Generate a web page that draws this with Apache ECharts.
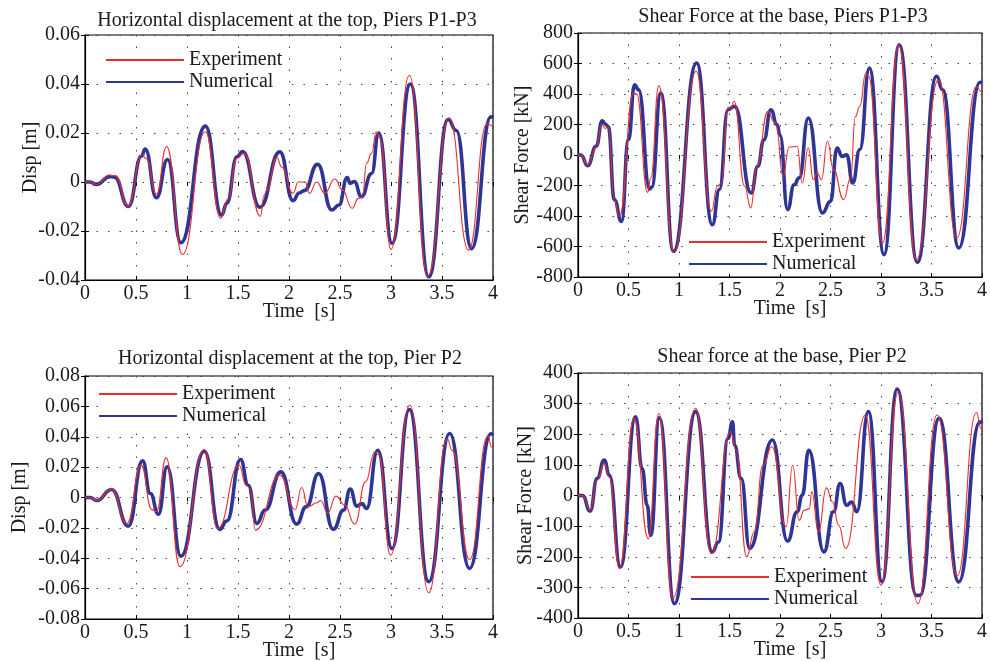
<!DOCTYPE html>
<html>
<head>
<meta charset="utf-8">
<script src="https://cdn.jsdelivr.net/npm/echarts@6/dist/echarts.min.js"></script>
<style>
html,body{margin:0;padding:0;background:#fff;}
#chart{width:990px;height:662px;}
</style>
</head>
<body>
<div id="chart"></div>
<script>
// ---------- titles / labels ----------
const titles = [
  'Horizontal displacement at the top, Piers P1-P3',
  'Shear Force at the base, Piers P1-P3',
  'Horizontal displacement at the top, Pier P2',
  'Shear force at the base, Pier P2'
];
const yNames = ['Disp [m]', 'Shear Force [kN]', 'Disp [m]', 'Shear Force [kN]'];
const xName = 'Time  [s]';
const seriesNames = ['Experiment', 'Numerical'];
const yMin = [-0.04, -800, -0.08, -400];
const yMax = [0.06, 800, 0.08, 400];
const yStep = [0.02, 200, 0.02, 100];
const xTicks = [0, 0.5, 1, 1.5, 2, 2.5, 3, 3.5, 4];

// ---------- Top-left: displacement P1-P3 ----------
const tlExpT = [0,0.05,0.11,0.24,0.30,0.42,0.56,0.60,0.70,0.80,0.955,1.18,1.33,1.40,1.49,1.56,1.72,1.755,1.78,1.88,1.93,2.04,2.09,2.16,2.20,2.27,2.35,2.45,2.52,2.62,2.68,2.72,2.76,2.81,2.855,2.89,3.00,3.18,3.36,3.57,3.76,3.94,4.0];
const tlExpV = [0,0,-0.001,0.0028,0.0025,-0.0100,0.0112,0.0095,-0.0050,0.0145,-0.0296,0.0205,-0.0148,-0.0070,0.0097,0.0118,-0.0140,-0.0055,-0.0035,0.0100,0.0060,-0.0046,0.0,0.0,-0.0046,0.0,-0.0045,0.0012,-0.0030,-0.0107,-0.0067,-0.0060,0.0076,0.0117,0.0205,0.0180,-0.0275,0.0436,-0.0384,0.0262,-0.0278,0.0237,0.0225];
const tlNumT = [0,0.05,0.11,0.245,0.29,0.425,0.555,0.59,0.70,0.81,0.94,1.18,1.34,1.39,1.49,1.545,1.715,1.91,2.04,2.10,2.15,2.28,2.42,2.49,2.57,2.60,2.64,2.71,2.81,2.88,3.01,3.19,3.37,3.56,3.64,3.79,3.98,4.0];
const tlNumV = [0,0,-0.001,0.0022,0.0020,-0.0100,0.0106,0.0135,-0.0064,0.0092,-0.0248,0.0228,-0.0135,-0.0087,0.0103,0.0124,-0.0103,0.0123,-0.0076,-0.0045,-0.0035,0.0072,-0.0114,-0.0094,0.0018,-0.0005,0.0002,-0.0060,0.0035,0.0200,-0.0250,0.0400,-0.0387,0.0255,0.0210,-0.0272,0.0266,0.0262];

// ---------- Top-right: shear P1-P3 ----------
const trExpT = [0,0.03,0.095,0.18,0.235,0.27,0.30,0.36,0.41,0.55,0.58,0.69,0.72,0.80,0.95,1.17,1.32,1.38,1.42,1.485,1.51,1.545,1.65,1.71,1.77,1.88,1.94,1.96,2.03,2.09,2.17,2.22,2.28,2.33,2.37,2.41,2.47,2.53,2.63,2.70,2.745,2.79,2.85,2.875,3.015,3.175,3.35,3.57,3.75,3.945,3.99,4.0];
const trExpV = [0,0,-65,50,200,175,185,-300,-402,410,400,-245,-150,455,-638,549,-369,-205,-184,315,297,352,-205,-347,-74,286,221,200,-140,52,57,-184,46,-162,-118,-162,90,-96,-293,-150,250,320,538,520,-577,723,-686,494,-544,450,417,410];
const trNumT = [0,0.03,0.095,0.18,0.24,0.275,0.30,0.36,0.43,0.50,0.56,0.60,0.71,0.73,0.82,0.945,1.175,1.33,1.40,1.485,1.55,1.715,1.78,1.84,1.91,1.97,2.0,2.075,2.14,2.19,2.28,2.42,2.50,2.565,2.615,2.66,2.72,2.79,2.885,3.03,3.18,3.36,3.55,3.61,3.77,3.98,4.0];
const trNumV = [0,0,-70,57,225,200,185,-293,-435,100,461,428,-223,-210,406,-632,603,-457,-227,297,319,-249,-74,100,297,200,130,-358,-195,-150,243,-380,-304,46,-9,2,-184,35,570,-653,723,-704,516,428,-610,477,470];

// ---------- Bottom-left: displacement P2 ----------
const blExpT = [0,0.05,0.115,0.26,0.41,0.55,0.655,0.70,0.795,0.93,1.17,1.30,1.51,1.58,1.62,1.67,1.91,2.06,2.125,2.185,2.275,2.31,2.38,2.46,2.545,2.645,2.75,2.84,2.88,2.995,3.185,3.37,3.55,3.60,3.77,3.95,3.985,4.0];
const blExpV = [0,0,-0.002,0.0055,-0.0171,0.0213,-0.0080,-0.0094,0.0261,-0.0456,0.0316,-0.0204,0.0213,0.0080,0.0060,-0.0215,0.0147,-0.0079,0.0066,-0.0060,-0.0035,-0.0020,-0.0101,0.0009,-0.0050,-0.0175,0.0103,0.0300,0.0280,-0.0380,0.0607,-0.0627,0.0388,0.0310,-0.0408,0.0404,0.0333,0.0330];
const blNumT = [0,0.05,0.115,0.26,0.425,0.565,0.64,0.72,0.805,0.94,1.17,1.32,1.39,1.525,1.60,1.685,1.765,1.92,2.075,2.17,2.29,2.435,2.535,2.60,2.665,2.715,2.76,2.87,3.01,3.18,3.37,3.575,3.77,3.98,4.0];
const blNumV = [0,0,-0.002,0.0053,-0.0189,0.0241,0.0026,-0.0110,0.0202,-0.0386,0.0305,-0.0210,-0.0155,0.0250,0.0081,-0.0171,-0.0083,0.0169,-0.0175,-0.0060,0.0158,-0.0210,-0.0083,0.0055,-0.0057,-0.0040,-0.0072,0.0311,-0.0336,0.0579,-0.0555,0.0421,-0.0467,0.0420,0.0410];

// ---------- Bottom-right: shear P2 ----------
const brExpT = [0,0.045,0.12,0.19,0.26,0.31,0.41,0.555,0.695,0.80,0.94,1.165,1.32,1.51,1.565,1.67,1.745,1.83,1.92,2.06,2.125,2.19,2.24,2.29,2.315,2.38,2.46,2.52,2.58,2.65,2.845,3.0,3.17,3.365,3.555,3.755,3.945,3.99,4.0];
const brExpV = [0,0,-48,50,105,60,-239,252,-141,268,-335,285,-190,208,148,-200,-119,99,159,-102,99,-81,-48,-43,12,-119,25,-21,-97,-173,263,-293,339,-353,263,-262,271,219,210];
const brNumT = [0,0.045,0.12,0.19,0.26,0.31,0.42,0.57,0.635,0.685,0.72,0.805,0.955,1.165,1.33,1.39,1.485,1.53,1.55,1.615,1.70,1.925,2.075,2.17,2.22,2.285,2.435,2.53,2.595,2.66,2.71,2.76,2.875,3.01,3.16,3.35,3.385,3.575,3.77,3.98,4.0];
const brNumV = [0,0,-51,56,116,66,-233,257,88,-32,-130,254,-353,274,-184,-152,186,241,165,56,-173,181,-149,-53,1,148,-184,-53,39,-32,-21,-53,274,-282,348,-326,-326,252,-282,241,235];

// ---------- build ----------
function zip(t, v) { return t.map((x, i) => [x, v[i]]); }
const expData = [zip(tlExpT, tlExpV), zip(trExpT, trExpV), zip(blExpT, blExpV), zip(brExpT, brExpV)];
const numData = [zip(tlNumT, tlNumV), zip(trNumT, trNumV), zip(blNumT, blNumV), zip(brNumT, brNumV)];

const FONT = "'Liberation Serif', 'DejaVu Serif', serif";
const TXT = '#1a1a1a';
const RED = '#ef2b2b';
const BLUE = '#2e3592';

const grids = [
  {left: 85, top: 35, width: 408, height: 245},
  {left: 578, top: 33, width: 408, height: 244},
  {left: 85, top: 376, width: 408, height: 243},
  {left: 578, top: 373, width: 408, height: 245}
];
const titlePos = [[287, 11], [783, 7], [290, 349], [782, 347]];
const legendPos = [[105, 50], [688, 232], [98, 384], [690, 567]];
const yNameGap = [44, 45, 55, 42];

function fmt(v) { return String(parseFloat(Number(v).toFixed(4))); }

const option = {
  backgroundColor: '#fff',
  animation: false,
  title: titles.map((t, i) => ({
    text: t, left: titlePos[i][0], top: titlePos[i][1], textAlign: 'center', padding: 0,
    textStyle: {fontFamily: FONT, fontSize: 20, fontWeight: 'normal', color: TXT}
  })),
  legend: legendPos.map((p, i) => ({
    data: seriesNames.slice(), left: p[0], top: p[1], orient: 'vertical',
    itemWidth: 78, itemHeight: 14, itemGap: 2, padding: [0, 4, 0, 0],
    backgroundColor: '#fff', selectedMode: false,
    textStyle: {fontFamily: FONT, fontSize: 20, color: TXT, lineHeight: 20}
  })),
  grid: grids.map(g => Object.assign({show: true, borderColor: '#000', borderWidth: 1.2, backgroundColor: 'transparent'}, g)),
  xAxis: [],
  yAxis: [],
  series: []
};

for (let i = 0; i < 4; i++) {
  option.xAxis.push({
    type: 'value', gridIndex: i, min: xTicks[0], max: xTicks[xTicks.length - 1], interval: xTicks[1] - xTicks[0],
    name: xName, nameLocation: 'middle', nameGap: 22, nameMoveOverlap: false,
    nameTextStyle: {fontFamily: FONT, fontSize: 20, color: TXT, padding: [0, 0, 0, 20]},
    axisLine: {show: true, onZero: false, lineStyle: {color: '#000', width: 1.2}},
    axisTick: {show: true, inside: true, length: 4, lineStyle: {color: '#000'}},
    axisLabel: {fontFamily: FONT, fontSize: 20, color: TXT, margin: 4, formatter: fmt},
    splitLine: {show: true, lineStyle: {color: '#444', width: 1, type: [1.5, 10]}}
  });
  option.yAxis.push({
    type: 'value', gridIndex: i, min: yMin[i], max: yMax[i], interval: yStep[i],
    name: yNames[i], nameLocation: 'middle', nameGap: yNameGap[i], nameMoveOverlap: false,
    nameTextStyle: {fontFamily: FONT, fontSize: 20, color: TXT},
    axisLine: {show: true, onZero: false, lineStyle: {color: '#000', width: 1.2}},
    axisTick: {show: true, inside: true, length: 4, lineStyle: {color: '#000'}},
    axisLabel: {fontFamily: FONT, fontSize: 20, color: TXT, margin: 5, formatter: fmt},
    splitLine: {show: true, lineStyle: {color: '#444', width: 1, type: [1.5, 10]}}
  });
}
for (let i = 0; i < 4; i++) {
  option.xAxis.push({
    type: 'value', gridIndex: i, position: 'top', min: xTicks[0], max: xTicks[xTicks.length - 1], interval: xTicks[1] - xTicks[0],
    axisLine: {show: false}, axisLabel: {show: false}, splitLine: {show: false},
    axisTick: {show: true, inside: true, length: 4, lineStyle: {color: '#000'}}
  });
  option.yAxis.push({
    type: 'value', gridIndex: i, position: 'right', min: yMin[i], max: yMax[i], interval: yStep[i],
    axisLine: {show: false}, axisLabel: {show: false}, splitLine: {show: false},
    axisTick: {show: true, inside: true, length: 4, lineStyle: {color: '#000'}}
  });
}
for (let i = 0; i < 4; i++) {
  option.series.push({
    name: seriesNames[1], type: 'line', xAxisIndex: i, yAxisIndex: i, data: numData[i],
    smooth: 0.5, smoothMonotone: 'x', symbol: 'circle', symbolSize: 1, showSymbol: false, z: 2,
    lineStyle: {color: BLUE, width: 3.6}, itemStyle: {color: BLUE, opacity: 0}
  });
  option.series.push({
    name: seriesNames[0], type: 'line', xAxisIndex: i, yAxisIndex: i, data: expData[i],
    smooth: 0.5, smoothMonotone: 'x', symbol: 'circle', symbolSize: 1, showSymbol: false, z: 3,
    lineStyle: {color: RED, width: 1.1}, itemStyle: {color: RED, opacity: 0}
  });
}

const chart = echarts.init(document.getElementById('chart'));
chart.setOption(option);
</script>
</body>
</html>
